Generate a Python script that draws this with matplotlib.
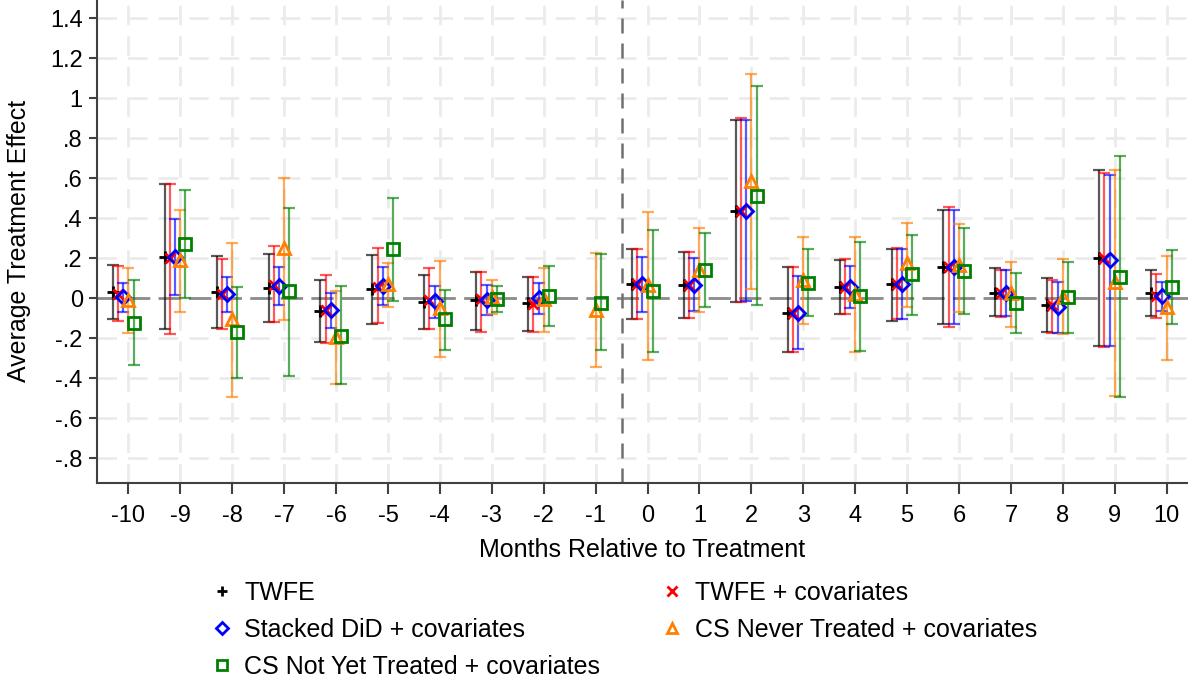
import numpy as np
import matplotlib
matplotlib.use('Agg')
import matplotlib.pyplot as plt
from matplotlib.lines import Line2D

plt.rcParams['font.family'] = ['Liberation Sans', 'DejaVu Sans']

nan = np.nan

# Event time (months relative to treatment)
months = np.arange(-10, 11)

# TWFE
twfe_est = [0.033, 0.208, 0.033, 0.053, -0.063, 0.047, -0.017, -0.008, -0.025, nan, 0.07,
            0.067, 0.437, -0.075, 0.055, 0.072, 0.158, 0.028, -0.033, 0.2, 0.025]
twfe_lo = [-0.104, -0.154, -0.147, -0.117, -0.22, -0.128, -0.154, -0.158, -0.163, nan, -0.105,
           -0.097, -0.02, -0.267, -0.08, -0.112, -0.128, -0.088, -0.167, -0.237, -0.088]
twfe_hi = [0.168, 0.57, 0.21, 0.22, 0.092, 0.217, 0.117, 0.133, 0.107, nan, 0.245,
           0.233, 0.892, 0.158, 0.192, 0.247, 0.442, 0.15, 0.1, 0.642, 0.142]

# TWFE + covariates
twfe_cov_est = [0.02, 0.2, 0.02, 0.065, -0.058, 0.058, -0.008, -0.005, -0.03, nan, 0.07,
                0.067, 0.437, -0.075, 0.055, 0.072, 0.158, 0.028, -0.033, 0.2, 0.013]
twfe_cov_lo = [-0.114, -0.179, -0.154, -0.12, -0.225, -0.122, -0.154, -0.167, -0.17, nan, -0.105,
               -0.097, -0.018, -0.267, -0.08, -0.105, -0.142, -0.095, -0.172, -0.245, -0.1]
twfe_cov_hi = [0.16, 0.57, 0.196, 0.262, 0.117, 0.25, 0.153, 0.13, 0.107, nan, 0.247,
               0.233, 0.9, 0.158, 0.197, 0.25, 0.458, 0.142, 0.092, 0.628, 0.122]

# Stacked DiD + covariates
stacked_est = [0.008, 0.208, 0.02, 0.063, -0.058, 0.062, -0.013, -0.008, 0.0, nan, 0.07,
               0.067, 0.437, -0.075, 0.055, 0.072, 0.158, 0.025, -0.042, 0.192, 0.013]
stacked_lo = [-0.07, 0.017, -0.067, -0.033, -0.15, -0.033, -0.1, -0.083, -0.078, nan, -0.07,
              -0.063, -0.012, -0.253, -0.047, -0.105, -0.13, -0.088, -0.172, -0.237, -0.062]
stacked_hi = [0.075, 0.395, 0.108, 0.158, 0.028, 0.155, 0.062, 0.067, 0.075, nan, 0.208,
              0.203, 0.888, 0.113, 0.163, 0.248, 0.442, 0.142, 0.083, 0.617, 0.083]

# CS Never Treated + covariates
csnever_est = [-0.008, 0.19, -0.104, 0.25, -0.192, 0.072, -0.05, 0.008, -0.005, -0.058, 0.067,
               0.142, 0.587, 0.092, 0.02, 0.175, 0.167, 0.025, 0.008, 0.083, -0.042]
csnever_lo = [-0.175, -0.07, -0.492, -0.108, -0.43, -0.045, -0.295, -0.08, -0.17, -0.345, -0.308,
              -0.07, 0.045, -0.13, -0.27, -0.042, -0.07, -0.145, -0.178, -0.487, -0.308]
csnever_hi = [0.153, 0.44, 0.278, 0.6, 0.037, 0.175, 0.188, 0.092, 0.153, 0.225, 0.432,
              0.353, 1.12, 0.308, 0.308, 0.378, 0.372, 0.18, 0.195, 0.642, 0.213]

# CS Not Yet Treated + covariates
csnotyet_est = [-0.122, 0.27, -0.17, 0.037, -0.188, 0.245, -0.105, -0.005, 0.013, -0.022, 0.038,
                0.142, 0.513, 0.078, 0.012, 0.12, 0.138, -0.022, 0.005, 0.108, 0.058]
csnotyet_lo = [-0.333, 0.0, -0.397, -0.387, -0.43, -0.012, -0.258, -0.07, -0.137, -0.258, -0.267,
               -0.045, -0.033, -0.088, -0.263, -0.083, -0.08, -0.175, -0.175, -0.492, -0.128]
csnotyet_hi = [0.09, 0.54, 0.058, 0.453, 0.062, 0.5, 0.042, 0.062, 0.162, 0.22, 0.342,
               0.327, 1.058, 0.245, 0.28, 0.317, 0.353, 0.128, 0.183, 0.708, 0.242]

ytick_vals = [-0.8, -0.6, -0.4, -0.2, 0, 0.2, 0.4, 0.6, 0.8, 1.0, 1.2, 1.4]
ytick_labels = ['-.8', '-.6', '-.4', '-.2', '0', '.2', '.4', '.6', '.8', '1', '1.2', '1.4']

# label, est, lo, hi, colour, marker, size, offset
series = [
    ('TWFE', twfe_est, twfe_lo, twfe_hi, 'black', '+', 9, -0.3),
    ('TWFE + covariates', twfe_cov_est, twfe_cov_lo, twfe_cov_hi, '#ff0000', 'x', 7, -0.2),
    ('Stacked DiD + covariates', stacked_est, stacked_lo, stacked_hi, '#0000ff', 'D', 7.5, -0.1),
    ('CS Never Treated + covariates', csnever_est, csnever_lo, csnever_hi, '#ff7f00', '^', 8, 0.0),
    ('CS Not Yet Treated + covariates', csnotyet_est, csnotyet_lo, csnotyet_hi, '#008000', 's', 8, 0.1),
]

fig = plt.figure(figsize=(11.88, 6.81), dpi=100)
ax = fig.add_axes([0.0814, 0.2912, 0.9186, 0.7088])

# grid
ax.set_axisbelow(True)
ax.grid(True, color='#ebebeb', linestyle=(0, (7, 4)), linewidth=2)

# reference lines
ax.axhline(0, color='#8c8c8c', linestyle=(0, (8, 3)), linewidth=2, zorder=1)
ax.axvline(-0.5, color='#707070', linestyle=(0, (6, 4)), linewidth=1.8, zorder=1)

handles = {}
for name, est, lo, hi, col, mk, ms, off in series:
    est = np.array(est)
    lo = np.array(lo)
    hi = np.array(hi)
    x = months + off
    ax.errorbar(x, est, yerr=[est - lo, hi - est], fmt='none', ecolor=col,
                elinewidth=1.6, capsize=4, capthick=1.6, alpha=0.65, zorder=2)
    if mk in ('+', 'x'):
        h, = ax.plot(x, est, linestyle='none', marker=mk, color=col, markersize=ms,
                     markeredgewidth=2, zorder=3)
    else:
        h, = ax.plot(x, est, linestyle='none', marker=mk, markerfacecolor='none',
                     markeredgecolor=col, markersize=ms, markeredgewidth=2, zorder=3)
    handles[name] = h

ax.set_xlim(-10.61, 10.41)
ax.set_ylim(-0.922, 1.49)
ax.set_xticks(months)
ax.set_xticklabels([str(m) for m in months], fontsize=17)
ax.set_yticks(ytick_vals)
ax.set_yticklabels(ytick_labels, fontsize=17)
ax.tick_params(axis='x', length=8, width=1.5, color='#404040', pad=8)
ax.tick_params(axis='y', length=6, width=1.5, color='#404040', pad=4)

for s in ['top', 'right']:
    ax.spines[s].set_visible(False)
for s in ['left', 'bottom']:
    ax.spines[s].set_color('#404040')
    ax.spines[s].set_linewidth(1.5)

ax.set_xlabel('Months Relative to Treatment', fontsize=18, labelpad=8)
ax.set_ylabel('Average Treatment Effect', fontsize=18, labelpad=14)

order = ['TWFE', 'Stacked DiD + covariates', 'CS Not Yet Treated + covariates',
         'TWFE + covariates', 'CS Never Treated + covariates']
leg_handles = []
for name in order:
    h = handles[name]
    leg_handles.append(Line2D([], [], linestyle='none', marker=h.get_marker(),
                              color=h.get_color(), markerfacecolor=h.get_markerfacecolor(),
                              markeredgecolor=h.get_markeredgecolor(),
                              markersize=6.5, markeredgewidth=2))
fig.legend(leg_handles, order, loc='upper left', bbox_to_anchor=(0.17, 0.162),
           ncol=2, frameon=False, fontsize=18, handlelength=0.8, handletextpad=0.5,
           columnspacing=2.47, labelspacing=0.52, borderaxespad=0)

fig.savefig('out.png', dpi=100)
